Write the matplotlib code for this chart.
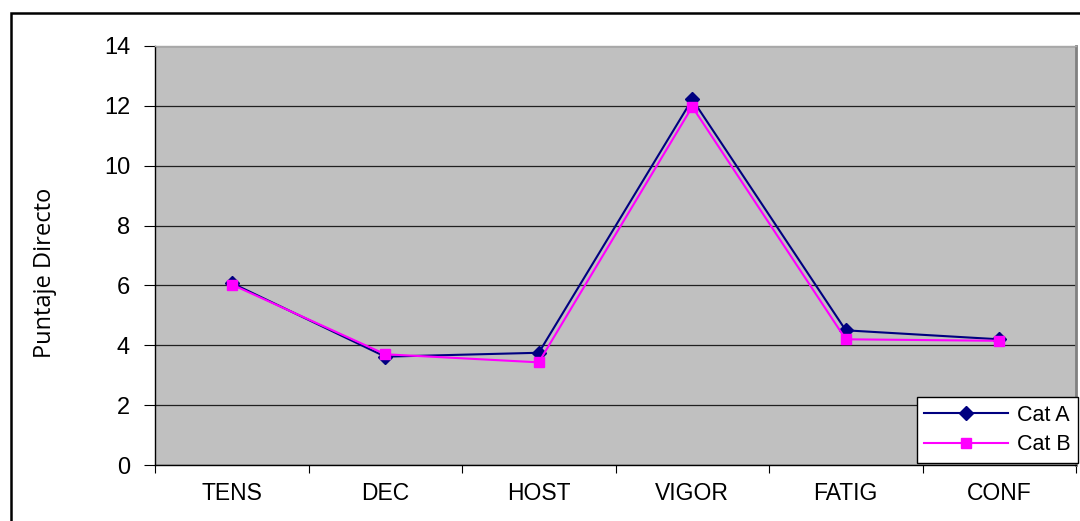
import matplotlib
matplotlib.use("Agg")
import matplotlib.pyplot as plt
from matplotlib.patches import Rectangle
import numpy as np

categories = ["TENS", "DEC", "HOST", "VIGOR", "FATIG", "CONF"]
cat_a = [6.08, 3.62, 3.75, 12.22, 4.5, 4.2]
cat_b = [6.03, 3.7, 3.43, 11.97, 4.2, 4.15]
y_ticks = [0, 2, 4, 6, 8, 10, 12, 14]

W, H = 1080, 521
fig = plt.figure(figsize=(W / 100, H / 100), dpi=100)
fig.patch.set_facecolor("white")

# outer frame
fig.patches.append(Rectangle((11 / W, -0.05), 1.2, (H - 13) / H + 0.05,
                             transform=fig.transFigure, fill=False,
                             edgecolor="black", linewidth=1.8))

ax = fig.add_axes([155 / W, (H - 465) / H, 921 / W, 419 / H])
ax.set_facecolor("#C0C0C0")

x = np.arange(len(categories))
ax.plot(x, cat_a, color="#000080", marker="D", markersize=7, linewidth=1.5,
        label="Cat A", zorder=3)
ax.plot(x, cat_b, color="#FF00FF", marker="s", markersize=7.5, linewidth=1.5,
        label="Cat B", zorder=4)

ax.set_xlim(-0.5, len(categories) - 0.5)
ax.set_ylim(0, 14)
ax.set_yticks(y_ticks)
ax.set_yticklabels([str(v) for v in y_ticks], fontsize=17, family="Liberation Sans")
ax.set_xticks(x)
ax.set_xticklabels(categories, fontsize=16.5, family="Liberation Sans")
ax.set_xticks(np.arange(-0.5, len(categories), 1.0), minor=True)
ax.tick_params(axis="x", which="major", length=0, pad=12)
ax.tick_params(axis="x", which="minor", length=6, width=0.8, direction="out")
ax.tick_params(axis="y", length=8, width=0.8, direction="out", pad=10)

ax.grid(axis="y", color="#202020", linewidth=0.9)
ax.set_axisbelow(True)

ax.spines["left"].set_color("black")
ax.spines["bottom"].set_color("black")
ax.spines["left"].set_linewidth(1.0)
ax.spines["bottom"].set_linewidth(1.0)
ax.spines["top"].set_color("#A8A8A8")
ax.spines["top"].set_linewidth(1.0)
ax.spines["right"].set_color("#808080")
ax.spines["right"].set_linewidth(2.0)

fig.text(45 / W, 1 - 273 / H, "Puntaje Directo", rotation=90, va="center",
         ha="center", fontsize=17, family="Open Sans")

leg = ax.legend(loc="lower right", bbox_to_anchor=(1078 / W, (H - 463) / H),
                bbox_transform=fig.transFigure,
                prop={"family": "Liberation Sans", "size": 15.5},
                frameon=True, fancybox=False, edgecolor="black",
                framealpha=1, borderpad=0.35, labelspacing=0.4,
                handlelength=3.9, handletextpad=0.4, borderaxespad=0)
leg.get_frame().set_linewidth(1.0)

fig.savefig("out.png", dpi=100)
